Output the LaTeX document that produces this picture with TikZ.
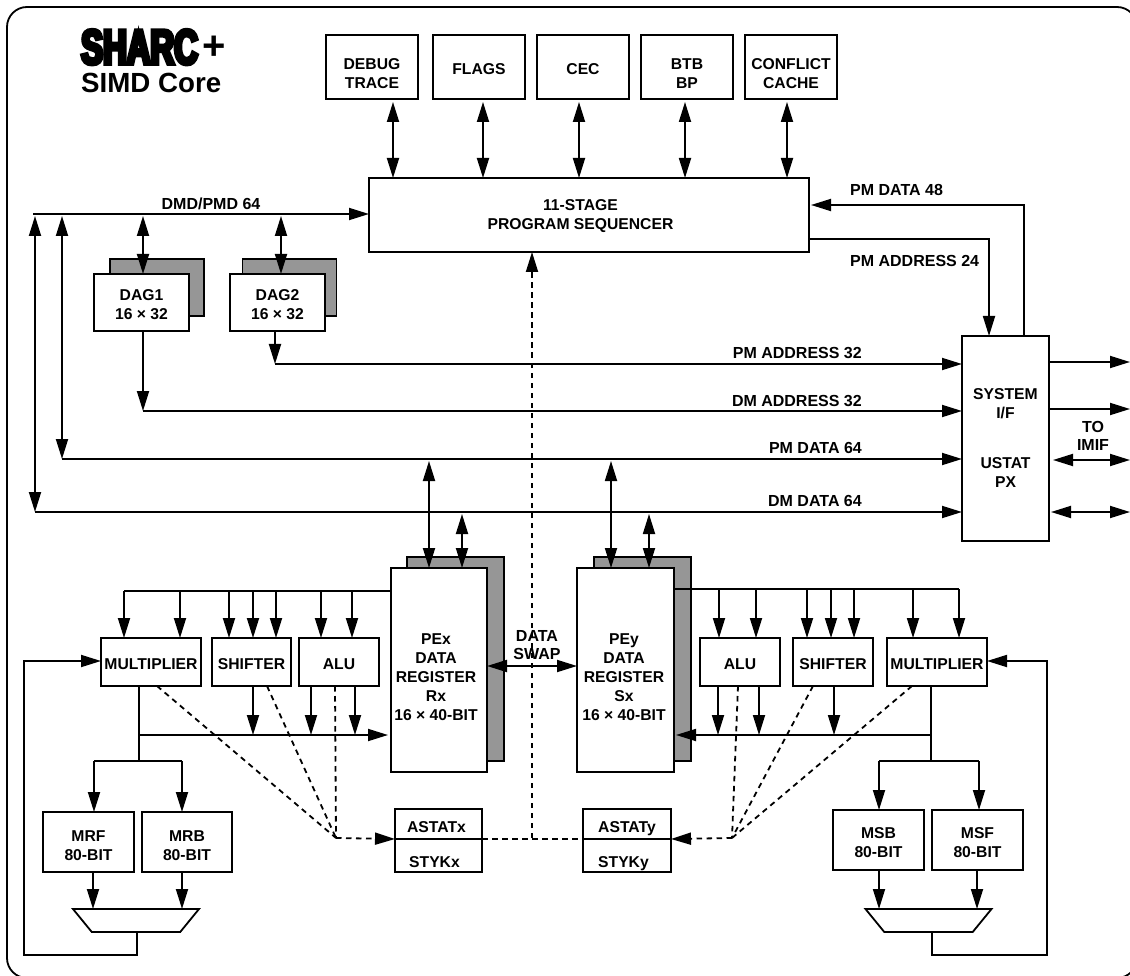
\documentclass[tikz,border=0pt]{standalone}
\usepackage{fontspec}
\setmainfont{Liberation Sans}
\newfontfamily\logofont[FakeBold=8,FakeStretch=0.67]{Liberation Sans Bold}
\usetikzlibrary{arrows.meta, positioning, shapes.geometric}
\newcommand{\toppad}[1]{\rule{0pt}{#1}}
\newcommand{\nudge}[1]{\hspace*{#1}\null}

\begin{document}
\begin{tikzpicture}[
        x=1pt, y=-1pt,
        box/.style={rectangle, draw=black, line width=1.8pt, fill=white, align=center, outer sep=0pt, inner sep=0pt, font=\fontsize{15.7}{19}\selectfont\bfseries},
        topbox/.style={box, minimum width=92pt, minimum height=64pt},
        unit/.style={box, minimum height=48pt, text height=15pt, text depth=0pt},
        shadow/.style={rectangle, draw=black, line width=1.8pt, fill=black!41, outer sep=0pt, inner sep=0pt},
        lab/.style={align=center, inner sep=0pt, font=\fontsize{16}{18.5}\selectfont\bfseries},
        mux/.style={trapezium, draw=black, line width=1.8pt, shape border rotate=180, trapezium stretches=true, trapezium angle=78, minimum width=126pt, minimum height=23pt, outer sep=0pt, inner sep=1pt},
        line/.style={line width=1.8pt},
        arrow/.style={line, -{Triangle[length=20pt, width=12pt]}},
        both/.style={line, {Triangle[length=20pt, width=12pt]}-{Triangle[length=20pt, width=12pt]}},
        dashline/.style={line, dash pattern=on 5.5pt off 4.5pt},
        darrow/.style={dashline, -{Triangle[length=20pt, width=12pt]}}
    ]
        \useasboundingbox (0,0) rectangle (1130,976);
        \clip (0,0) rectangle (1130,976);
        \draw[line, rounded corners=20pt] (7,7) rectangle (1137,978);

        % Logo
        \node[lab, anchor=base west, text depth=0pt, font=\logofont\fontsize{49}{49}\selectfont] (sharc) at (81,64) {SHARC};
        \node[lab, font=\fontsize{40}{40}\selectfont\bfseries] (plus) at (214,48) {+};
        \node[lab, anchor=base west, text height=20pt, text depth=0pt, font=\fontsize{27.7}{29}\selectfont\bfseries] (simd) at (81,93) {SIMD Core};

        % Top Row
        \node[topbox] (dbg) at (372,67) {\toppad{23.5pt}DEBUG\\TRACE};
        \node[topbox, text height=14.3pt, text depth=0pt, right=15pt of dbg] (flg) {FLAGS};
        \node[topbox, text height=14.3pt, text depth=0pt, right=12pt of flg] (cec) {CEC};
        \node[topbox, right=12pt of cec] (btb) {\toppad{23.5pt}BTB\\BP};
        \node[topbox, right=12pt of btb] (cch) {\toppad{23.5pt}CONFLICT\\CACHE};
        \node[box, minimum width=440pt, minimum height=74pt] (seq) at (589,215) {\toppad{13.5pt}11-STAGE\nudge{17pt}\\PROGRAM SEQUENCER\nudge{17pt}};

        % DAGs
        \node[shadow, minimum width=94pt, minimum height=57pt] (dagoneb) at (157,287.5) {};
        \node[box, minimum width=95pt, minimum height=57pt] (dagone) at (141.5,302.5) {\toppad{14.3pt}DAG1\\16 × 32};
        \node[shadow, minimum width=94pt, minimum height=57pt] (dagtwob) at (289.5,287.5) {};
        \node[box, minimum width=95pt, minimum height=57pt] (dagtwo) at (277.5,302.5) {\toppad{14.3pt}DAG2\\16 × 32};

        % System Interface
        \node[box, minimum width=87pt, minimum height=205pt] (sys) at (1005.5,438.5) {SYSTEM\\I/F\\[31pt]USTAT\\PX};

        % PEx Side
        \node[shadow, minimum width=97pt, minimum height=204pt] (pexb) at (455.5,659) {};
        \node[box, minimum width=96pt, minimum height=204pt] (pex) at (439,670) {\toppad{25.3pt}PEx\nudge{6pt}\\DATA\nudge{6pt}\\REGISTER\nudge{6pt}\\Rx\nudge{6pt}\\16 × 40-BIT\nudge{6pt}};
        \node[unit, minimum width=100pt] (mulx) at (151,662) {MULTIPLIER};
        \node[unit, minimum width=79pt, right=11pt of mulx] (shfx) {SHIFTER};
        \node[unit, minimum width=80pt, right=8pt of shfx] (alux) {ALU};
        \node[box, minimum width=91pt, minimum height=60pt] (mrf) at (88.5,842) {\toppad{17.3pt}MRF\\80-BIT};
        \node[box, minimum width=90pt, minimum height=60pt, right=8pt of mrf] (mrb) {\toppad{17.3pt}MRB\\80-BIT};
        \node[mux] (muxx) at (136,920.5) {};
        \node[box, minimum width=87pt, minimum height=30pt, text height=17.5pt, text depth=0pt] (astx) at (438.5,824) {ASTATx\nudge{4pt}};
        \node[box, minimum width=87pt, minimum height=33pt, text height=23.5pt, text depth=0pt, below=0pt of astx] (styx) {STYKx\nudge{8pt}};

        % PEy Side
        \node[shadow, minimum width=97pt, minimum height=204pt] (peyb) at (642.5,659) {};
        \node[box, minimum width=97pt, minimum height=204pt] (pey) at (625.5,670) {\toppad{25.3pt}PEy\nudge{3pt}\\DATA\nudge{3pt}\\REGISTER\nudge{3pt}\\Sx\nudge{3pt}\\16 × 40-BIT\nudge{3pt}};
        \node[unit, minimum width=80pt] (aluy) at (740,662) {ALU};
        \node[unit, minimum width=80pt, right=13pt of aluy] (shfy) {SHIFTER};
        \node[unit, minimum width=100pt, right=14pt of shfy] (muly) {MULTIPLIER};
        \node[box, minimum width=91pt, minimum height=60pt] (msb) at (878.5,840) {\toppad{15.3pt}MSB\\80-BIT};
        \node[box, minimum width=91pt, minimum height=60pt, right=8pt of msb] (msf) {\toppad{15.3pt}MSF\\80-BIT};
        \node[mux] (muxy) at (928.5,920.5) {};
        \node[box, minimum width=88pt, minimum height=30pt, text height=17pt, text depth=0pt] (asty) at (627,824) {ASTATy};
        \node[box, minimum width=88pt, minimum height=33pt, text height=23.5pt, text depth=0pt, below=0pt of asty] (styy) {STYKy\nudge{7pt}};

        % Labels
        \node[lab] (ldmd) at (211,204) {DMD/PMD 64};
        \node[lab, anchor=west] (lpmd) at (850,190) {PM DATA 48};
        \node[lab, anchor=west] (lpma) at (850,261) {PM ADDRESS 24};
        \node[lab, anchor=east] (lpma32) at (862,353) {PM ADDRESS 32};
        \node[lab, anchor=east] (ldma32) at (862,401) {DM ADDRESS 32};
        \node[lab, anchor=east] (lpmd64) at (862,448) {PM DATA 64};
        \node[lab, anchor=east] (ldmd64) at (862,501) {DM DATA 64};
        \node[lab] (limif) at (1093,436) {TO\\IMIF};
        \node[lab] (lswap) at (537,645) {DATA\\SWAP};

        % Bus Points
        \coordinate (dmdbus) at (33,214);
        \coordinate (pma32) at (275,364);
        \coordinate (dma32) at (143,411);
        \coordinate (pmd64) at (62,459);
        \coordinate (dmd64) at (35,512);
        \coordinate (rxbus) at (124,591);
        \coordinate (sxbus) at (959,589);
        \coordinate (rxback) at (139,735);
        \coordinate (sxback) at (931,735);
        \coordinate (mrxbus) at (139,761);
        \coordinate (mrybus) at (931,761);
        \coordinate (dashx) at (336,838);
        \coordinate (dashy) at (732,838);
        \coordinate (stat) at (532,838);
        \coordinate (outa) at (1130,362);
        \coordinate (outb) at (1130,409);
        \coordinate (outc) at (1130,460);
        \coordinate (outd) at (1130,512);

        % Core Bus Connections
        \foreach \nm/\xpos in {dbg/393, flg/483, cec/579, btb/685, cch/787}
            \draw[both] (\xpos,0 |- \nm.south) ++(0,3) -- (\xpos,0 |- seq.north);
        \draw[arrow] (dmdbus) -- (dmdbus -| seq.west);
        \draw[both] (dmdbus -| dmd64) ++(0,2) -- (dmd64);
        \draw[both] (dmdbus -| pmd64) ++(0,2) -- (pmd64);
        \draw[both] (143,0 |- dmdbus) ++(0,2) -- (143,0 |- dagone.north);
        \draw[both] (281,0 |- dmdbus) ++(0,2) -- (281,0 |- dagtwo.north);
        \draw[arrow] (dagone.south -| dma32) -- (dma32);
        \draw[arrow] (dagtwo.south -| pma32) -- (pma32);
        \draw[arrow] (pma32) -- (pma32 -| sys.west);
        \draw[arrow] (dma32) -- (dma32 -| sys.west);
        \draw[arrow] (pmd64) -- (pmd64 -| sys.west);
        \draw[arrow] (dmd64) -- (dmd64 -| sys.west);
        \draw[arrow] (sys.north -| 1024,0) |- (811,205);
        \draw[arrow] (809,239) -| (989,0 |- sys.north);
        \draw[arrow] (sys.east |- outa) -- (outa);
        \draw[arrow] (sys.east |- outb) -- (outb);
        \draw[both] (sys.east |- outc) ++(4,0) -- (outc);
        \draw[both] (sys.east |- outd) ++(2,0) -- (outd);

        % PE Connections
        \draw[both] (429,0 |- pmd64) ++(0,2) -- (429,0 |- pex.north);
        \draw[both] (462,0 |- dmd64) ++(0,2) -- (462,0 |- pex.north);
        \draw[both] (611,0 |- pmd64) ++(0,2) -- (611,0 |- pey.north);
        \draw[both] (649,0 |- dmd64) ++(0,2) -- (649,0 |- pey.north);
        \draw[both] (pex.east |- 0,666) -- (pey.west |- 0,666);

        % PEx Units
        \draw[line] (pex.west |- rxbus) -- (rxbus);
        \foreach \nm/\xpos in {mulx/124, mulx/180, shfx/229, shfx/253, shfx/276, alux/321, alux/352}
            \draw[arrow] (\xpos,0 |- rxbus) -- (\xpos,0 |- \nm.north);
        \draw[arrow] (rxback) -- (388,0 |- rxback);
        \draw[line] (rxback |- mulx.south) -- (mrxbus);
        \foreach \nm/\xpos in {shfx/253, alux/311, alux/355}
            \draw[arrow] (\xpos,0 |- \nm.south) -- (\xpos,0 |- rxback);
        \draw[line] (94,0 |- mrxbus) -- (182,0 |- mrxbus);
        \draw[arrow] (94,0 |- mrxbus) -- (94,0 |- mrf.north);
        \draw[arrow] (182,0 |- mrxbus) -- (182,0 |- mrb.north);
        \draw[arrow] (93,0 |- mrf.south) -- (93,0 |- muxx.north);
        \draw[arrow] (182,0 |- mrb.south) -- (182,0 |- muxx.north);
        \draw[arrow] (137,0 |- muxx.south) |- (24,955) |- (mulx.west |- 0,661);

        % PEy Units
        \draw[line] (pey.east |- sxbus) -- (sxbus);
        \foreach \nm/\xpos in {aluy/719, aluy/756, shfy/807, shfy/831, shfy/854, muly/913, muly/959}
            \draw[arrow] (\xpos,0 |- sxbus) -- (\xpos,0 |- \nm.north);
        \draw[arrow] (sxback) -- (676,0 |- sxback);
        \draw[line] (sxback |- muly.south) -- (mrybus);
        \foreach \nm/\xpos in {aluy/718, aluy/759, shfy/834}
            \draw[arrow] (\xpos,0 |- \nm.south) -- (\xpos,0 |- sxback);
        \draw[line] (879,0 |- mrybus) -- (979,0 |- mrybus);
        \draw[arrow] (879,0 |- mrybus) -- (879,0 |- msb.north);
        \draw[arrow] (979,0 |- mrybus) -- (979,0 |- msf.north);
        \draw[arrow] (879,0 |- msb.south) -- (879,0 |- muxy.north);
        \draw[arrow] (977,0 |- msf.south) -- (977,0 |- muxy.north);
        \draw[arrow] (932,0 |- muxy.south) |- (1047,955) |- (muly.east |- 0,661);

        % Status Paths
        \draw[dashline] (157,0 |- mulx.south) -- (dashx);
        \draw[dashline] (267,0 |- shfx.south) -- (dashx);
        \draw[dashline] (335,0 |- alux.south) -- (dashx);
        \draw[darrow] (dashx) -- (astx.south west);
        \draw[dashline] (astx.south east) -- (asty.south west);
        \draw[darrow] (stat) -- (532,0 |- seq.south);
        \draw[dashline] (738,0 |- aluy.south) -- (dashy);
        \draw[dashline] (813,0 |- shfy.south) -- (dashy);
        \draw[dashline] (912,0 |- muly.south) -- (dashy);
        \draw[darrow] (dashy) -- (asty.south east);
    \end{tikzpicture}
\end{document}
